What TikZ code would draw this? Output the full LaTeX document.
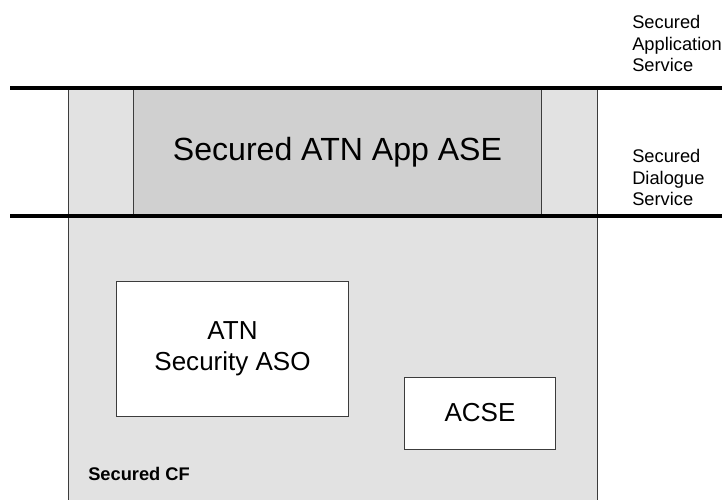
\documentclass[tikz,border=0pt]{standalone}
\usepackage{fontspec}
\setmainfont{Liberation Sans}
\usetikzlibrary{positioning}
\definecolor{cfgray}{RGB}{226,226,226}
\definecolor{asegray}{RGB}{208,208,208}
\definecolor{edgegray}{RGB}{60,60,60}

\begin{document}
\begin{tikzpicture}[x=0.025cm, y=-0.025cm,
    layerline/.style={line width=2.8pt},
    sidelabel/.style={anchor=west, align=left, inner sep=0pt,
                      font=\fontsize{13}{15.6}\selectfont},
    subbox/.style={draw=edgegray, fill=white, line width=0.7pt,
                   align=center, font=\fontsize{18.5}{22.2}\selectfont}]
    \useasboundingbox (0,0) rectangle (722,500);

    \fill[cfgray] (68,88) rectangle (597,500);
    \draw[edgegray, line width=0.7pt] (68,88) -- (68,500) (597,88) -- (597,500);

    \node (appase) [draw=edgegray, fill=asegray, line width=0.7pt,
                    minimum width=10.175cm, minimum height=3.2cm,
                    font=\fontsize{22.8}{27}\selectfont] at (337.5,152) {Secured ATN App ASE};

    \draw[layerline] (10,88) -- (722,88);
    \draw[layerline] (10,216) -- (722,216);

    \node (secaso) [subbox, minimum width=5.775cm, minimum height=3.35cm]
        at (232.5,349) {ATN\\Security ASO};
    \node (acse) [subbox, minimum width=3.75cm, minimum height=1.8cm]
        at (480,413) {ACSE};

    \node (cflabel) [anchor=base west, inner sep=0pt,
                     font=\bfseries\fontsize{13}{15.6}\selectfont] at (88,480) {Secured CF};

    \node (appsvc) [sidelabel] at (632,43.5) {Secured\\Application\\Service};
    \node (dlgsvc) [sidelabel] at (632,177.5) {Secured\\Dialogue\\Service};
\end{tikzpicture}
\end{document}
